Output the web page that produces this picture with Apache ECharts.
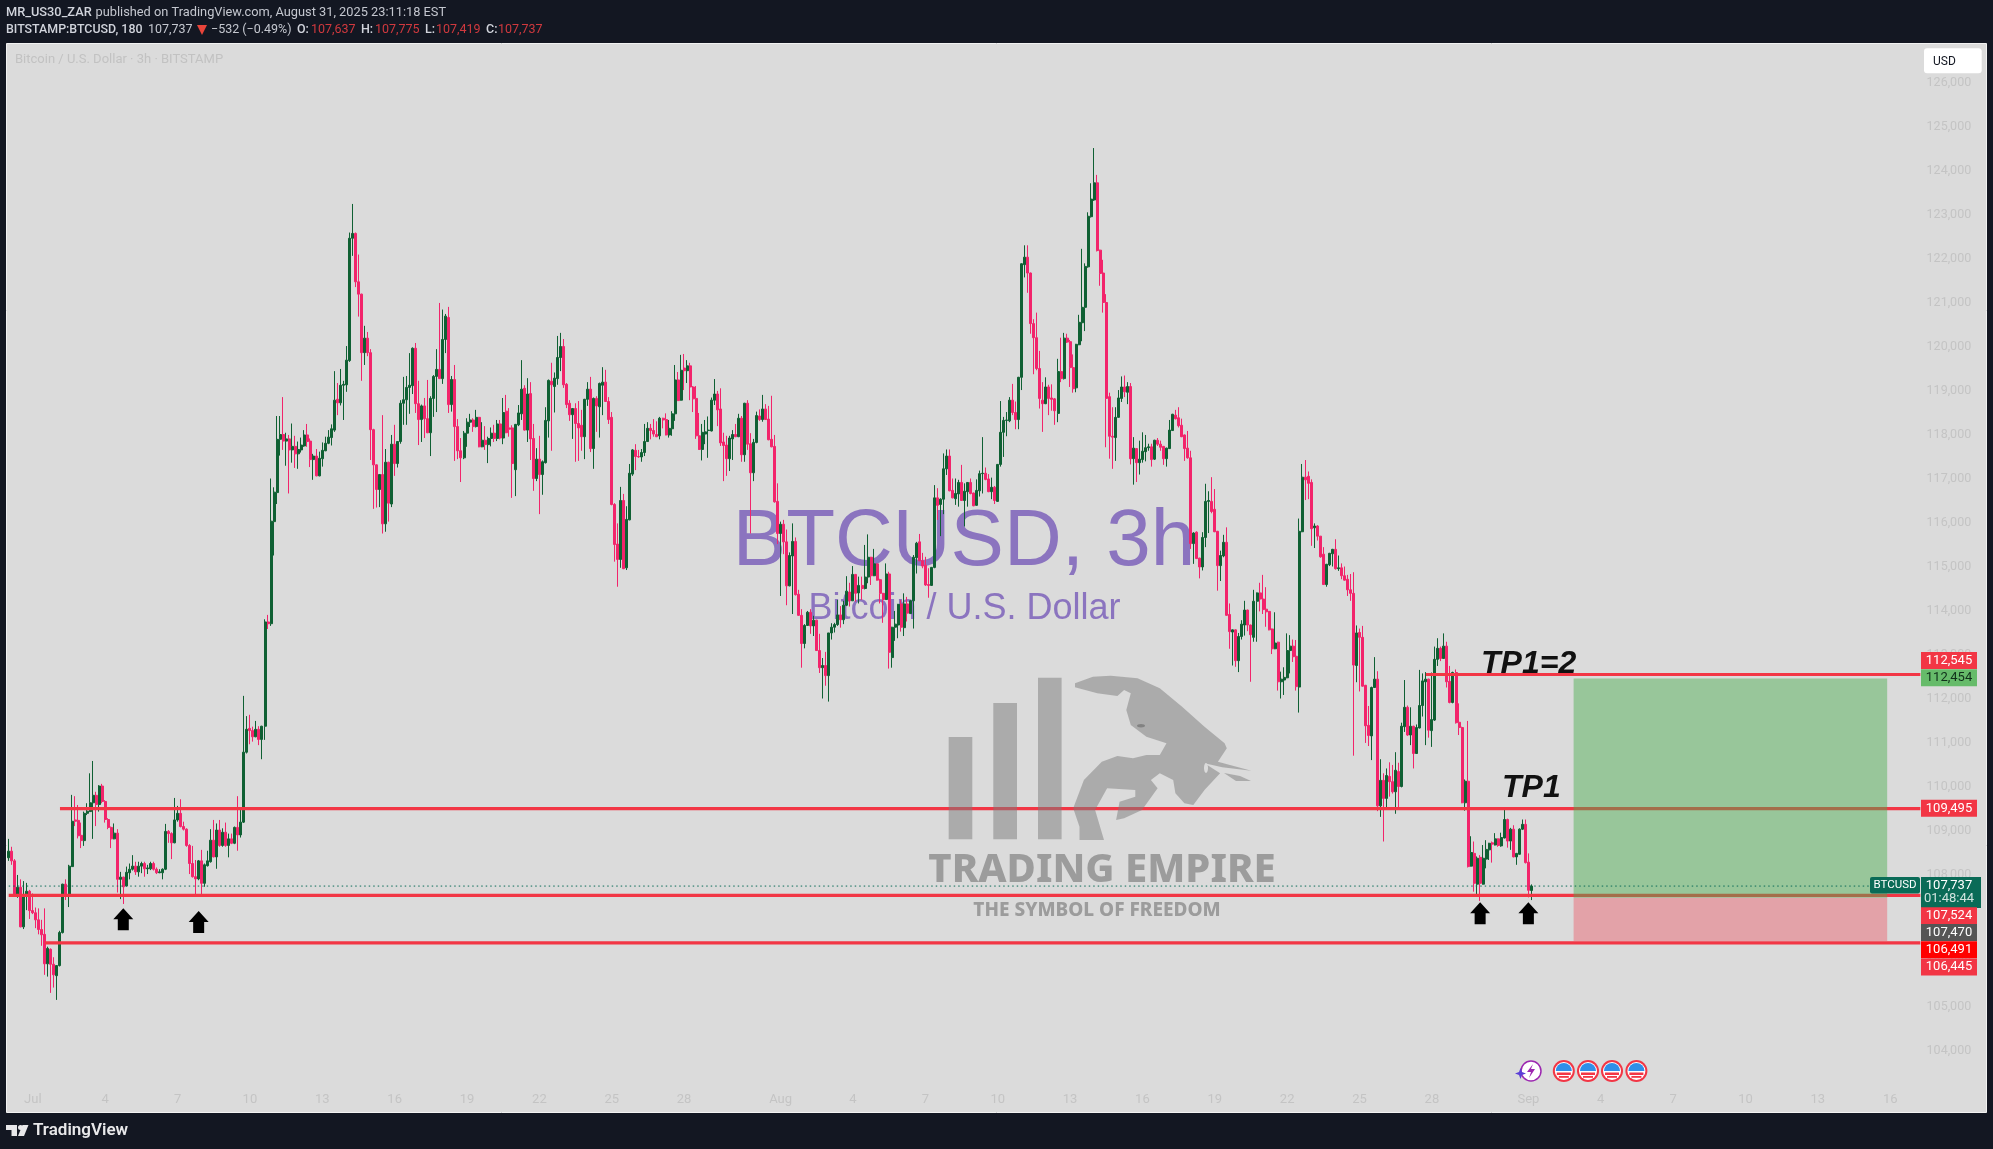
<!DOCTYPE html>
<html><head><meta charset="utf-8">
<style>html,body{margin:0;padding:0;background:#131722}#c{width:1993px;height:1149px}</style>
<script src="https://cdn.jsdelivr.net/npm/echarts@6/dist/echarts.min.js"></script>
</head><body><div id="c"></div>
<script>
const opens=[108380,108530,108310,107530,107710,106810,107500,107620,107180,107130,
106970,106750,106640,105970,106300,105960,105700,105930,106680,107780,
107510,108180,109240,109230,108890,108770,109390,109430,109630,109800,
109590,110010,109660,109250,109070,108810,108940,107890,107940,107740,
108040,108120,108190,108060,108190,108250,108130,108130,108250,108120,
108040,108040,108120,108980,108930,108720,109240,109390,109090,109030,
108660,108250,107950,107900,108310,107800,108200,108290,108780,108400,
109010,108660,108960,108660,108810,108710,109070,108900,109190,110780,
111320,111270,111130,111300,111070,111370,113740,113700,116020,116680,
117890,118000,117850,117900,117650,117730,117560,117650,117740,117990,
117850,117430,117510,117060,117450,117630,117800,117930,118100,118800,
118720,119120,119130,119680,122460,122570,121470,121190,119860,120190,
119860,118110,117310,116750,117090,115970,117370,116420,117780,117340,
117840,118710,118790,119070,119110,119960,118700,118340,118650,118360,
118040,118820,119320,119480,119270,120160,120660,118680,119250,118180,
117630,117470,118030,118280,118330,118180,118390,117720,117870,117770,
117910,118030,117910,118240,117920,118530,118150,118150,117200,118220,
118470,119050,118100,118930,117910,117000,117440,117090,117360,118310,
119210,119090,119270,119750,120000,119140,118710,118450,118590,118250,
118210,117950,118800,119030,117680,118820,118630,119120,119190,118750,
118390,116410,115510,115160,116500,114970,116060,117100,117640,117500,
117490,117590,117840,118140,118090,118000,117970,118370,118340,117990,
118130,118470,119240,118780,119510,119450,119560,119080,118820,117970,
117660,118010,118090,118080,118780,118920,118580,117830,117760,117450,
117900,118000,117950,118370,117540,118710,117790,117130,117820,118420,
118340,118580,118350,117890,117730,116480,115750,115960,115560,114560,
115240,115570,114370,113890,113250,113660,113960,113650,113780,113090,
112700,112750,112520,113490,113620,113680,113900,113790,114120,114420,
114220,114820,114400,114570,114500,114760,115210,114790,115060,114700,
114390,114250,114830,112930,113620,113670,114150,113610,114150,113930,
114220,115200,115560,115130,115030,114590,114570,114980,116560,116410,
116530,117220,117510,116730,116540,116650,116910,116500,116700,116910,
116670,116390,116720,117110,117120,116990,116700,116800,116480,117320,
118050,118320,118310,118780,118500,118340,119300,121860,122030,121670,
120520,120200,119500,118780,118700,119080,118830,118810,118480,119430,
119270,120190,120110,119520,119060,120040,120540,120890,121810,122950,
123330,123720,122190,121670,121000,118860,117960,117930,118390,118820,
119080,118960,119090,117450,117680,117360,117430,117610,117700,117720,
117440,117870,117780,117730,117450,117680,118090,118440,118380,118210,
117990,117690,117470,115520,115780,115190,114990,115660,116480,116480,
116300,115800,115020,115240,115550,113910,113510,113560,112860,113410,
113670,114010,113670,113390,114210,114400,114260,114030,113980,113580,
113130,113280,112380,112420,112470,113090,113190,112960,112260,115790,
117030,117050,116910,115880,115920,115690,115280,114590,115040,115290,
115390,114950,114970,114790,114710,114470,114390,112750,113500,113390,
112300,111390,111150,112250,112440,109560,110140,109730,110230,110110,
109880,110340,110000,111360,111800,111170,111370,110750,111330,111840,
112380,112440,111270,111510,112890,113140,112910,113190,112390,111910,
112590,111460,111340,109630,110120,108190,108480,107780,108390,107780,
108350,108560,108720,108670,108810,108650,108830,109250,108760,109030,
108400,108460,109030,109140,108280,107637];
const closes=[108530,108310,107530,107710,106810,107510,107620,107180,107130,106970,
106750,106630,105970,106320,105960,105720,105930,106680,107780,107500,
108190,109210,109210,108880,108770,109390,109440,109630,109800,109590,
110010,109660,109250,109070,108810,108940,107890,107940,107720,108050,
108120,108190,108060,108190,108250,108130,108150,108250,108120,108040,
108060,108120,108980,108930,108720,109240,109390,109090,109030,108660,
108250,107950,107900,108310,107800,108220,108310,108780,108400,109010,
108660,108960,108660,108810,108710,109070,108900,109190,110780,111300,
111270,111130,111300,111070,111370,113740,113700,116030,116690,117890,
118000,117850,117900,117650,117730,117560,117660,117760,117990,117840,
117430,117510,117060,117460,117640,117800,117940,118130,118780,118720,
119120,119140,119690,122460,122570,121470,121190,119860,120190,119860,
118110,117310,116750,117090,115970,117370,116440,117780,117340,117840,
118710,118790,119070,119120,119960,118700,118340,118650,118360,118040,
118820,119320,119480,119270,120160,120690,118680,119250,118180,117630,
117470,118030,118280,118330,118180,118390,117720,117870,117770,117910,
118030,117910,118240,117920,118500,118040,118120,117340,118230,118490,
119030,118100,118920,117900,117000,117440,117090,117380,118320,119230,
119130,119280,119750,120000,119130,118680,118450,118590,118250,118150,
117950,118800,119030,117680,118820,118650,119160,119190,118750,118340,
116410,115500,115160,116500,114950,116070,117120,117650,117500,117490,
117590,117840,118140,118090,118010,117950,118370,118330,117990,118140,
118470,119240,118770,119460,119450,119560,119080,118810,117970,117660,
118050,118060,118100,118780,118920,118560,117810,117750,117450,117920,
118000,117950,118370,117540,118710,117780,117130,117820,118430,118340,
118580,118340,117880,117720,116470,115750,115960,115560,114560,115250,
115570,114360,113890,113250,113660,113960,113650,113780,113090,112700,
112750,112520,113490,113620,113680,113900,113790,114120,114440,114220,
114820,114390,114570,114500,114760,115210,114790,115060,114690,114390,
114250,114830,113050,113620,113690,114140,113620,114150,113940,114220,
115210,115530,115130,115010,114580,114570,114980,116560,116390,116530,
117220,117510,116720,116560,116660,116910,116500,116710,116910,116660,
116380,116730,117110,117120,116980,116700,116800,116500,117320,118050,
118320,118330,118780,118500,118340,119300,121880,122030,121670,120520,
120200,119500,118820,118700,119080,118820,118800,118540,119430,119270,
120190,120100,119520,119040,120050,120550,120890,121820,122960,123350,
123720,122180,121660,121000,118820,117960,117940,118390,118830,119080,
118970,119090,117450,117690,117360,117440,117620,117700,117720,117430,
117870,117780,117710,117450,117690,118100,118460,118360,118200,117950,
117680,117470,115520,115760,115180,114990,115660,116480,116500,116250,
115790,115020,115250,115550,113890,113520,113560,112860,113410,113690,
114010,113670,113450,114210,114400,114260,114020,113970,113560,113130,
113260,112380,112440,112480,113090,113190,112950,112270,115800,117030,
116970,116890,115860,115920,115690,115220,114590,115050,115300,115390,
114950,114970,114790,114690,114470,114390,112760,113490,113390,112280,
111380,111160,112250,112440,109560,110140,109730,110250,110110,109880,
110370,110000,111370,111800,111170,111370,110750,111340,111840,112400,
112440,111280,111520,112890,113140,112910,113190,112380,111910,112590,
111450,111340,109630,110120,108180,108500,107800,108370,107800,108370,
108570,108710,108690,108810,108660,108840,109250,108760,109030,108400,
108480,109030,109140,108270,107640,107737];
const lows=[108310,108220,107500,107470,106800,106760,107190,106990,107100,106780,
106640,106380,105720,105680,105310,105430,105150,105910,106660,107420,
107260,108170,109100,108820,108600,108650,109350,109420,108810,109100,
109430,109620,109180,109030,108600,108800,107590,107440,107330,107730,
107890,108090,107990,107950,108030,107950,108010,108100,108090,108010,
108030,107890,108100,108720,108350,108710,109200,109070,109000,108630,
108010,107930,107540,107870,107500,107720,108180,108270,108390,108130,
108630,108630,108630,108390,108690,108690,108540,108840,109170,110750,
110960,111020,111120,110940,110620,111060,113580,113650,115250,116420,
117520,117650,117290,116660,117360,117240,117220,117590,117720,117720,
117260,116970,117050,117050,117270,117620,117780,117750,118060,118440,
118660,118330,118970,119650,122060,121350,120680,119220,119580,119780,
117420,116310,116340,116350,115750,115790,116020,116350,117060,117250,
117790,118220,118220,118470,118920,118490,117760,117830,117920,118030,
117510,118400,118510,119260,119150,119850,118490,118520,117400,117440,
116920,117440,117720,118170,118060,118160,117710,117710,117650,117350,
117730,117830,117850,117890,117780,118030,117950,116560,116600,118190,
118330,118090,117830,117420,116720,116940,116190,116630,117340,117930,
117630,118500,119130,119440,119060,118600,118310,117900,117380,117400,
117630,117440,118650,117600,117220,118060,117930,118440,118740,118240,
116390,115110,114540,114970,114940,114920,116050,117060,117190,117470,
117380,117510,117830,117890,117950,117940,117890,118140,117980,117930,
117970,118310,118760,118770,119010,119170,118780,118510,117900,117650,
117410,117780,117470,118070,118670,118190,117740,116940,117060,117170,
117420,117940,117940,117380,117380,117650,115750,116940,117800,118310,
118290,118330,117870,117710,116450,115510,114330,115280,114120,114550,
113920,114340,113880,112700,113140,113650,113470,113420,113080,112580,
112000,112290,111930,113340,113500,113650,113610,113690,114100,114090,
114220,114200,114160,114240,114480,114620,114580,114780,114680,114160,
113720,114240,112680,112700,113310,113370,113520,113420,113750,113920,
113590,114840,115120,114960,114560,114290,114560,114960,116060,115690,
116190,117080,116710,116550,116400,116360,116490,115910,116360,116640,
116370,116380,116590,116660,116960,116690,116530,116420,116470,117270,
117490,117960,118280,118440,118120,118120,119010,121570,121220,120290,
119370,119460,118590,118060,118690,118440,118540,118220,118280,119190,
119250,120080,119080,118950,118960,120030,120120,120350,121790,122930,
123310,122160,121380,120770,117710,117450,117220,117400,118380,118740,
118850,118690,117320,116860,116920,117090,117360,117390,117630,117270,
117420,117740,117630,117310,117270,117670,118080,118340,118160,117940,
117400,117450,115400,115060,115170,114730,114910,115440,115760,116210,
115780,114450,114670,115210,113880,113130,112750,112720,112600,113340,
113430,113530,112380,113290,113290,113980,113920,113630,113550,113010,
113120,112180,112000,112080,112460,112570,112830,112180,111680,115780,
116510,116530,115470,115420,115590,115200,114580,114540,115010,115000,
114930,114900,114710,114680,114330,114220,110700,112370,112160,112270,
110990,110920,110600,112240,109440,109310,108750,109470,109770,109840,
109380,109470,109980,111240,111150,110940,110410,110740,111320,111590,
110940,111110,110900,111490,112740,112850,112900,112250,111890,111890,
111430,111170,109620,109450,108160,108180,107610,107520,107400,107770,
108140,108330,108270,108660,108630,108630,108820,108610,108560,108390,
108220,108450,109010,108250,107480,107419];
const highs=[108810,108630,108350,107990,107890,107850,107810,107650,107570,107250,
107230,106970,107230,106360,106320,106120,105940,106720,107790,107890,
108220,109810,109780,109580,109180,109430,109620,110300,110580,109880,
110030,110060,109690,109280,109090,109160,109030,108060,107950,108180,
108250,108440,108290,108290,108290,108290,108220,108290,108290,108160,
108120,108140,109150,109010,108960,109740,109560,109710,109200,109050,
108690,108650,108330,108330,108560,108250,108540,109030,109240,109160,
109240,109050,109180,108930,108930,109090,109780,109520,112060,111600,
111630,111360,111490,111370,111380,113800,113900,117000,116800,118420,
118420,118850,118040,117990,118250,117970,117840,117930,118100,118240,
117910,117560,117670,117610,117820,117950,118100,118230,119440,119170,
119490,119220,120010,122590,123240,122590,122090,121200,120470,120330,
119940,118130,117320,117100,118440,117670,117380,117990,118220,117850,
118780,119310,119330,119850,119980,120080,119220,118680,118830,119240,
118870,119350,119940,120990,120840,120740,120900,119330,119580,118350,
117920,118080,118370,118470,118370,118560,118400,118280,118190,117950,
118160,118220,118330,118330,118830,118900,118600,118210,118240,118670,
119690,119120,119280,119190,118240,117690,117970,117410,118620,119250,
119630,119410,120240,120310,120170,119170,118780,118600,118710,118760,
118560,118810,119190,119310,118840,118870,119180,119530,119470,118850,
118510,116440,115980,116810,116650,116370,117330,117670,117780,117650,
117670,118240,118280,118240,118350,118300,118400,118380,118480,118330,
118530,119580,119420,119810,119830,119690,119630,119100,119100,118490,
118240,118330,118410,118840,119260,118990,119050,118040,117970,117970,
118100,118240,118470,118420,118720,118780,118030,117900,118520,118570,
118900,118690,118650,118880,117990,116890,116020,116060,115840,115320,
115980,115660,114470,114030,113690,113990,114030,113880,113790,113470,
112920,113060,113490,113710,113720,114240,114100,114220,114780,114630,
115010,114830,114770,114770,115490,115730,115220,115400,115070,114720,
114400,115070,114880,113630,113990,114150,114240,114390,114310,114240,
115260,115560,115740,115310,115220,114960,114990,116850,116780,116550,
117570,117660,117660,117000,117000,116970,117310,116890,116920,117000,
116680,116980,117180,117940,117250,117100,117020,116830,117330,118760,
118400,118510,118850,119150,118750,119310,121890,122300,122300,121680,
120620,120770,119900,119190,119300,119130,119140,118830,119720,120200,
120310,120290,120150,119820,120060,120720,122220,121890,123050,123710,
124510,123900,122200,121970,121190,118950,118620,118620,119010,119320,
119340,119190,119170,117940,117690,117860,118050,117990,117790,117790,
117880,117920,117860,117740,117700,118330,118470,118560,118620,118360,
118000,118080,117630,115780,115800,115200,115780,116880,116710,117030,
116760,115810,115360,115720,115890,114160,113570,113570,113490,113780,
114220,114020,113680,114470,114410,114630,114810,114530,113990,113590,
113960,113290,112610,112710,113480,113440,113340,113330,116090,117330,
117420,117160,116980,115980,115940,115690,115440,115060,115310,115400,
115620,115250,115070,115000,114810,114830,114870,113660,113590,113650,
112310,111830,112270,112940,112620,110620,110300,110410,110550,110490,
110780,110540,111450,112420,111840,111800,111380,111410,112650,112570,
112600,112450,112590,113180,113370,113180,113480,113290,112740,112610,
112660,111890,111360,110160,111490,108870,108750,108410,108440,108670,
108780,108720,108750,108940,108820,108950,109500,109270,109060,109120,
108490,109050,109250,109250,108480,107775];

const slots=657, firstDay=Date.UTC(2025,5,30), lastTick=Date.UTC(2025,8,16);
const tickDays=[4,7,10,13,16,19,22,25,28];
const monthNames=['Jan','Feb','Mar','Apr','May','Jun','Jul','Aug','Sep','Oct','Nov','Dec'];
const categories=[];
for(let i=0;i<slots;i++){categories.push(new Date(firstDay+i*3*3600*1000).toISOString());}
function dayLabel(iso){const d=new Date(iso);if(d.getUTCHours()!==0||d.getTime()>lastTick)return '';
  const day=d.getUTCDate();if(day===1)return monthNames[d.getUTCMonth()];return tickDays.includes(day)?String(day):'';}

const levelPrices=[112545,109495,107524,106445];
const levelStarts=[470,17,0,12];
const levelEnd=634;
const lastPrice=107737;
const lastPriceEnd=618;
const profitZone=[519,623,112454,107470];
const stopZone=[519,623,107470,106491];
const arrowIdx=[38,63,488,504];
const arrowPrices=[106985,106920,107120,107120];

const FONT='Roboto';
const el=[];
function rect(x,y,w,h,fill,z,extra){el.push(Object.assign({type:'rect',silent:true,z:z,shape:{x,y,width:w,height:h},style:{fill}},extra||{}));}
function text(t,x,y,fill,font,z,align){el.push({type:'text',silent:true,z:z,x:x,y:y,style:{text:t,fill,font,textAlign:align||'left',textVerticalAlign:'middle'}});}
function pill(y,color,t,tc){rect(1921,y-8.5,56,17,color,60);text(t,1949,y,tc||'#fff','13px '+FONT,61,'center');}

// frame
rect(0,0,1993,1149,'#131722',-30);
rect(6.5,43.5,1980,1069,'#dbdbdb',-20,{style:{fill:'#dbdbdb',stroke:'#f2f2f2',lineWidth:1}});
// header
text('MR_US30_ZAR',6,13,'#d1d4dc','500 12.8px '+FONT,70);
text('published on TradingView.com, August 31, 2025 23:11:18 EST',95.5,13,'#c4c7cf','12.8px '+FONT,70);
text('BITSTAMP:BTCUSD, 180',6,29.5,'#d1d4dc','500 12.4px '+FONT,70);
text('107,737',148,29.5,'#c4c7cf','12.5px '+FONT,70);
el.push({type:'polygon',silent:true,z:70,shape:{points:[[197,25],[207,25],[202,35]]},style:{fill:'#e8443a'}});
text('−532 (−0.49%)',211,29.5,'#c4c7cf','12.5px '+FONT,70);
[['O:',297,'107,637',311],['H:',361,'107,775',375],['L:',425,'107,419',436],['C:',486,'107,737',498]].forEach(a=>{
  text(a[0],a[1],29.5,'#d1d4dc','500 12.5px '+FONT,70);text(a[2],a[3],29.5,'#d0393e','12.5px '+FONT,70);});
text('Bitcoin / U.S. Dollar · 3h · BITSTAMP',15,60,'#c2c2c2','13px '+FONT,70);
// watermarks
text('BTCUSD, 3h',964,543,'#8b74bf','80px "Liberation Sans"',-10,'center');
text('Bitcoin / U.S. Dollar',964.5,609,'#8b74bf','36px "Liberation Sans"',-10,'center');
const LOGO='rgba(123,123,123,0.5)';
rect(948.7,737,23.6,102.3,LOGO,8);rect(993.3,703,23.7,136.3,LOGO,8);rect(1038,677.7,23.6,161.6,LOGO,8);
el.push({type:'polygon',silent:true,z:8,shape:{points:[[1075,683.3],[1092.9,676.7],[1110.7,675.7],[1137.5,678.3],[1159.8,688.3],[1182.1,706.7],[1204.5,726.7],[1224.6,743.3],[1226.8,748.3],[1217.9,761.7],[1251.3,770.7],[1222.3,767.3],[1204.5,763.3],[1220.1,773.3],[1204.5,790],[1193.3,805],[1184.4,803.3],[1175.4,793.3],[1173.2,780],[1159.8,773.3],[1150.9,780],[1157.6,788.3],[1142,810],[1124.1,818.3],[1116.1,820],[1119.6,801.7],[1135.3,796.7],[1135.3,790],[1107.1,788.3],[1095.1,810],[1104,840],[1079.5,840],[1079.5,826.7],[1073.2,808.3],[1083.9,780],[1101.8,761.7],[1117.4,756],[1133,758.3],[1146.4,755],[1159.8,755],[1166.5,743.3],[1146.4,736.7],[1130.8,725],[1126.3,710],[1130.8,693.3],[1124.1,690],[1117.4,696],[1097.3,693.3],[1075,687.3]]},style:{fill:LOGO}});
el.push({type:'polygon',silent:true,z:8,shape:{points:[[1224,773],[1240,776],[1251,781],[1236,781]]},style:{fill:LOGO}});
el.push({type:'ellipse',silent:true,z:9,shape:{cx:1141,cy:725.7,rx:4,ry:1.7},style:{fill:'rgba(90,90,90,0.5)'}});
el.push({type:'ellipse',silent:true,z:9,shape:{cx:1206,cy:768,rx:2,ry:5},style:{fill:'#dbdbdb'}});
text('TRADING EMPIRE',1102,871,'rgba(123,123,123,0.66)','800 40px "Noto Sans"',8,'center');
text('THE SYMBOL OF FREEDOM',1097,911,'rgba(123,123,123,0.66)','800 19px "Noto Sans"',8,'center');
// notes
text('TP1=2',1481,664,'#111','italic 700 32px "Liberation Sans"',30);
text('TP1',1502,788,'#111','italic 700 32px "Liberation Sans"',30);
// pills
rect(1924,48.3,57.7,25,'#ffffff',60,{shape:{x:1924,y:48.3,width:57.7,height:25,r:3}});
text('USD',1933,61.5,'#131722','12px '+FONT,61);
pill(660.6,'#f23645','112,545');
pill(677.7,'#66bb6a','112,454','#10301a');
pill(808.3,'#f23645','109,495');
rect(1921,877,60,31,'#0a6b57',60);
text('107,737',1949,885.5,'#fff','13px '+FONT,61,'center');
text('01:48:44',1949,899,'#cfe3de','13px '+FONT,61,'center');
rect(1870,877,50,16.5,'#0a6b57',60,{shape:{x:1870,y:877,width:50,height:16.5,r:2}});
text('BTCUSD',1895,885.5,'#fff','11.5px '+FONT,61,'center');
pill(915.8,'#f23645','107,524');
pill(932.6,'#555555','107,470');
pill(949.8,'#ff0000','106,491');
pill(967,'#f23645','106,445');
// footer
el.push({type:'polygon',silent:true,z:70,shape:{points:[[6,1125],[17,1125],[17,1136],[11.5,1136],[11.5,1130],[6,1130]]},style:{fill:'#e8e8ea'}});
el.push({type:'circle',silent:true,z:70,shape:{cx:20.5,cy:1127.5,r:2.5},style:{fill:'#e8e8ea'}});
el.push({type:'polygon',silent:true,z:70,shape:{points:[[28.5,1125],[24,1136],[18,1136],[22.5,1125]]},style:{fill:'#e8e8ea'}});
text('TradingView',33,1130.5,'#e8e8ea','600 17px '+FONT,70);
// event icons
[1563.8,1588,1612,1636.4].forEach(cx=>{const cy=1071;
  el.push({type:'circle',silent:true,z:40,shape:{cx,cy,r:11},style:{fill:'#f23645'}});
  el.push({type:'circle',silent:true,z:41,shape:{cx,cy,r:9},style:{fill:'#fff'}});
  el.push({type:'sector',silent:true,z:42,shape:{cx,cy,r:8,r0:0,startAngle:Math.PI,endAngle:2*Math.PI},style:{fill:'#2f8fe8'}});
  el.push({type:'rect',silent:true,z:42,shape:{x:cx-7,y:cy+1.5,width:14,height:2.5},style:{fill:'#f23645'}});
  el.push({type:'rect',silent:true,z:42,shape:{x:cx-5,y:cy+5,width:10,height:1.8},style:{fill:'#f23645'}});
});
el.push({type:'circle',silent:true,z:40,shape:{cx:1531,cy:1071,r:10},style:{fill:'#fff',stroke:'#9c27b0',lineWidth:1.5}});
el.push({type:'polygon',silent:true,z:41,shape:{points:[[1533,1064],[1527,1072],[1531,1072],[1529,1078],[1535,1069],[1531,1069]]},style:{fill:'#9c27b0'}});
el.push({type:'polygon',silent:true,z:41,shape:{points:[[1520.5,1068],[1522,1072],[1526,1073.5],[1522,1075],[1520.5,1079],[1519,1075],[1515,1073.5],[1519,1072]]},style:{fill:'#5b3fd6'}});

const lineSeries=levelPrices.map((p,k)=>({type:'line',z:3,silent:true,showSymbol:false,symbol:'none',animation:false,
  lineStyle:{color:'#f23645',width:3.2},data:[[levelStarts[k],p],[levelEnd,p]]}));

const chart=echarts.init(document.getElementById('c'),null,{renderer:'canvas'});
chart.setOption({
  animation:false,backgroundColor:'#131722',tooltip:{show:false},
  grid:{left:7.2,width:1981,top:82.5,height:1012},
  graphic:{elements:el},
  xAxis:{type:'category',data:categories,boundaryGap:true,axisLine:{show:false},axisTick:{show:false},splitLine:{show:false},
    axisLabel:{color:'#c4c4c4',fontFamily:FONT,fontSize:13,margin:-1.5,hideOverlap:false,
      interval:(i,v)=>dayLabel(v)!=='',formatter:v=>dayLabel(v)}},
  yAxis:{type:'value',position:'right',min:103000,max:126000,interval:1000,axisLine:{show:false},axisTick:{show:false},splitLine:{show:false},
    axisLabel:{inside:true,margin:17,color:'#c4c4c4',fontFamily:FONT,fontSize:12.5,
      formatter:v=>v<104000?'':v.toLocaleString('en-US')}},
  series:[
    {type:'candlestick',z:2,barWidth:2.5,silent:true,animation:false,
      itemStyle:{color:'#0f6033',color0:'#f2246b',borderColor:'#0f6033',borderColor0:'#f2246b',borderWidth:1},
      data:opens.map((o,i)=>[o,closes[i],lows[i],highs[i]])},
    ...lineSeries,
    {type:'custom',z:4,silent:true,animation:false,clip:false,data:[profitZone,stopZone],
      renderItem:(p,api)=>{const z=[profitZone,stopZone][p.dataIndex];
        const a=api.coord([z[0],z[2]]),b=api.coord([z[1],z[3]]);
        return {type:'rect',shape:{x:a[0],y:a[1],width:b[0]-a[0],height:b[1]-a[1]},
          style:{fill:p.dataIndex===0?'rgba(76,175,80,0.47)':'rgba(242,54,69,0.34)'}};}},
    {type:'line',z:5,silent:true,symbol:'none',animation:false,lineStyle:{color:'#0a6b57',width:1,type:[1.5,3]},data:[[0,lastPrice],[lastPriceEnd,lastPrice]]},
    {type:'scatter',z:6,silent:true,animation:false,symbol:'path://M10 0 L20 11 L15.5 11 L15.5 22 L4.5 22 L4.5 11 L0 11 Z',symbolSize:[20,22],
      itemStyle:{color:'#000',opacity:1},data:arrowIdx.map((x,i)=>[x,arrowPrices[i]])}
  ]
});
</script></body></html>
